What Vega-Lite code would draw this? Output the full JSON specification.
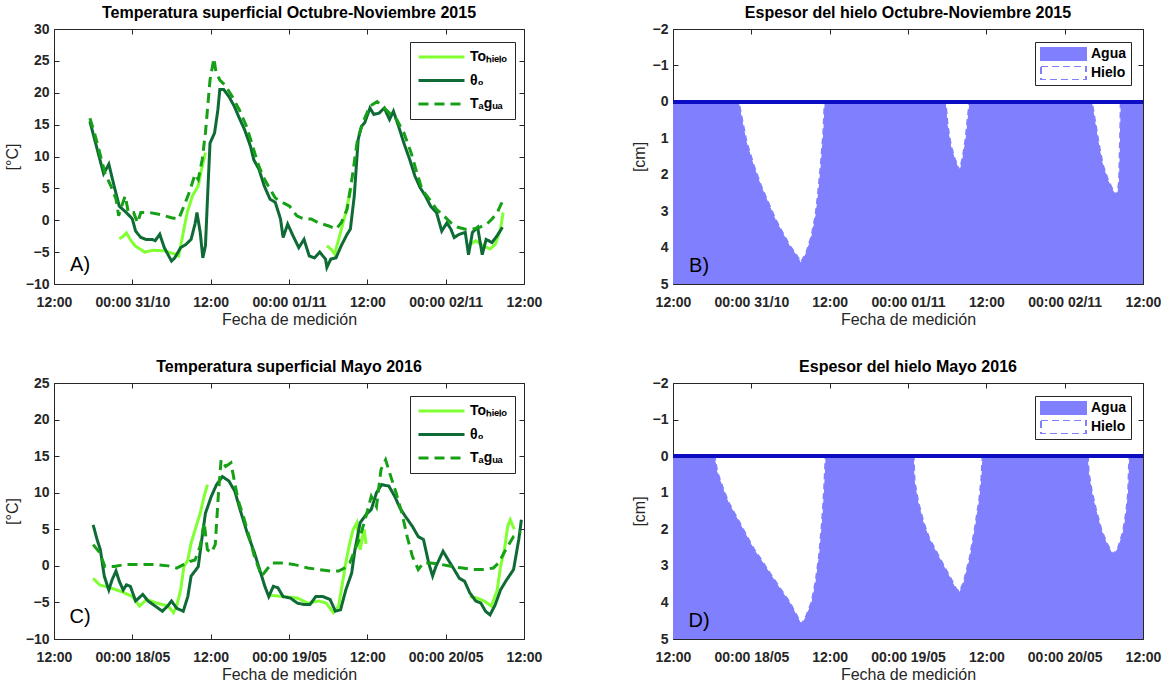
{
  "$schema": "https://vega.github.io/schema/vega-lite/v6.json",
  "background": "white",
  "padding": {"left": 3, "top": 4, "right": 5, "bottom": 5},
  "config": {
    "font": "Liberation Sans",
    "view": {"stroke": "#262626", "strokeWidth": 1},
    "axis": {"grid": false, "domain": false, "tickColor": "#262626", "labelColor": "#262626", "titleColor": "#262626", "labelFontSize": 14, "labelFontWeight": "bold", "titleFontSize": 16, "titleFontWeight": "normal", "tickSize": -5, "labelPadding": 10, "labelFlush": false, "labelOverlap": false, "titlePadding": 5},
    "axisBottom": {"labelPadding": 16, "titlePadding": 2},
    "title": {"fontSize": 16, "fontWeight": "bold", "color": "#000000", "offset": 1},
    "legend": {"labelFontSize": 14, "labelFontWeight": "bold", "labelColor": "#000000", "fillColor": "#ffffff", "strokeColor": "#262626", "orient": "none"}
  },
  "datasets": {
    "tA": [
      {"s":"To","k":1,"h":10.0,"v":-2.9},{"s":"To","k":1,"h":10.5,"v":-2.6},{"s":"To","k":1,"h":11.1,"v":-2.0},{"s":"To","k":1,"h":11.8,"v":-3.2},{"s":"To","k":1,"h":12.4,"v":-4.0},{"s":"To","k":1,"h":13.9,"v":-5.0},{"s":"To","k":1,"h":15.2,"v":-4.7},{"s":"To","k":1,"h":16.9,"v":-4.8},{"s":"To","k":1,"h":18.5,"v":-5.3},{"s":"To","k":1,"h":19.1,"v":-5.6},{"s":"To","k":1,"h":19.6,"v":-3.0},{"s":"To","k":1,"h":20.4,"v":1.2},{"s":"To","k":1,"h":21.2,"v":3.8},{"s":"To","k":1,"h":22.1,"v":5.4},{"s":"To","k":1,"h":22.6,"v":8.0},{"s":"To","k":1,"h":23.2,"v":10.6},
      {"s":"To","k":2,"h":41.8,"v":-4.0},{"s":"To","k":2,"h":42.5,"v":-4.6},{"s":"To","k":2,"h":43.0,"v":-5.3},{"s":"To","k":2,"h":43.9,"v":-1.9},{"s":"To","k":2,"h":44.7,"v":1.2},{"s":"To","k":2,"h":45.5,"v":5.1},
      {"s":"To","k":3,"h":63.5,"v":-4.0},{"s":"To","k":3,"h":64.6,"v":-3.2},{"s":"To","k":3,"h":65.7,"v":-4.0},{"s":"To","k":3,"h":66.8,"v":-4.5},{"s":"To","k":3,"h":67.6,"v":-3.8},{"s":"To","k":3,"h":68.4,"v":-1.4},{"s":"To","k":3,"h":68.8,"v":1.2},
      {"s":"th","k":4,"h":5.5,"v":15.5},{"s":"th","k":4,"h":6.5,"v":11.6},{"s":"th","k":4,"h":7.6,"v":7.3},{"s":"th","k":4,"h":8.4,"v":8.8},{"s":"th","k":4,"h":9.2,"v":5.4},{"s":"th","k":4,"h":10.0,"v":2.2},{"s":"th","k":4,"h":11.1,"v":1.2},{"s":"th","k":4,"h":12.0,"v":0.2},{"s":"th","k":4,"h":12.5,"v":-1.7},{"s":"th","k":4,"h":13.3,"v":-2.7},{"s":"th","k":4,"h":14.1,"v":-3.0},{"s":"th","k":4,"h":15.0,"v":-3.0},{"s":"th","k":4,"h":15.5,"v":-3.2},{"s":"th","k":4,"h":16.2,"v":-2.2},{"s":"th","k":4,"h":16.9,"v":-4.3},{"s":"th","k":4,"h":18.0,"v":-6.4},{"s":"th","k":4,"h":18.5,"v":-5.9},{"s":"th","k":4,"h":19.4,"v":-4.3},{"s":"th","k":4,"h":20.2,"v":-3.8},{"s":"th","k":4,"h":21.0,"v":-3.0},{"s":"th","k":4,"h":21.6,"v":-0.6},{"s":"th","k":4,"h":21.9,"v":1.2},{"s":"th","k":4,"h":22.4,"v":-1.9},{"s":"th","k":4,"h":22.8,"v":-5.9},{"s":"th","k":4,"h":23.2,"v":-4.0},{"s":"th","k":4,"h":23.6,"v":5.4},{"s":"th","k":4,"h":23.9,"v":12.1},{"s":"th","k":4,"h":24.6,"v":13.7},{"s":"th","k":4,"h":25.1,"v":17.3},{"s":"th","k":4,"h":25.4,"v":20.5},{"s":"th","k":4,"h":26.0,"v":20.5},{"s":"th","k":4,"h":26.8,"v":19.4},{"s":"th","k":4,"h":27.6,"v":17.9},{"s":"th","k":4,"h":28.4,"v":16.0},{"s":"th","k":4,"h":29.2,"v":14.2},{"s":"th","k":4,"h":30.1,"v":11.6},{"s":"th","k":4,"h":30.6,"v":9.5},{"s":"th","k":4,"h":31.4,"v":8.0},{"s":"th","k":4,"h":32.2,"v":5.4},{"s":"th","k":4,"h":33.1,"v":3.3},{"s":"th","k":4,"h":33.9,"v":2.8},{"s":"th","k":4,"h":34.7,"v":0.2},{"s":"th","k":4,"h":35.1,"v":-2.7},{"s":"th","k":4,"h":35.8,"v":-0.6},{"s":"th","k":4,"h":36.6,"v":-2.4},{"s":"th","k":4,"h":37.5,"v":-4.3},{"s":"th","k":4,"h":38.3,"v":-3.0},{"s":"th","k":4,"h":39.1,"v":-5.6},{"s":"th","k":4,"h":39.9,"v":-5.9},{"s":"th","k":4,"h":40.7,"v":-5.0},{"s":"th","k":4,"h":41.6,"v":-6.1},{"s":"th","k":4,"h":41.8,"v":-7.4},{"s":"th","k":4,"h":42.4,"v":-6.1},{"s":"th","k":4,"h":43.2,"v":-5.9},{"s":"th","k":4,"h":44.0,"v":-4.0},{"s":"th","k":4,"h":44.9,"v":-2.2},{"s":"th","k":4,"h":45.4,"v":-1.4},{"s":"th","k":4,"h":46.0,"v":3.8},{"s":"th","k":4,"h":46.6,"v":12.7},{"s":"th","k":4,"h":47.1,"v":14.7},{"s":"th","k":4,"h":47.6,"v":15.3},{"s":"th","k":4,"h":48.4,"v":17.6},{"s":"th","k":4,"h":49.0,"v":16.6},{"s":"th","k":4,"h":49.8,"v":16.8},{"s":"th","k":4,"h":50.6,"v":17.6},{"s":"th","k":4,"h":51.4,"v":15.8},{"s":"th","k":4,"h":52.0,"v":17.1},{"s":"th","k":4,"h":52.8,"v":14.7},{"s":"th","k":4,"h":53.6,"v":12.1},{"s":"th","k":4,"h":54.5,"v":9.5},{"s":"th","k":4,"h":55.3,"v":6.9},{"s":"th","k":4,"h":56.1,"v":5.1},{"s":"th","k":4,"h":56.9,"v":3.8},{"s":"th","k":4,"h":57.7,"v":2.2},{"s":"th","k":4,"h":58.6,"v":1.2},{"s":"th","k":4,"h":59.4,"v":-1.7},{"s":"th","k":4,"h":60.2,"v":-0.4},{"s":"th","k":4,"h":60.8,"v":-1.4},{"s":"th","k":4,"h":61.3,"v":-2.7},{"s":"th","k":4,"h":62.1,"v":-2.2},{"s":"th","k":4,"h":63.0,"v":-1.9},{"s":"th","k":4,"h":63.5,"v":-5.4},{"s":"th","k":4,"h":64.1,"v":-1.9},{"s":"th","k":4,"h":64.9,"v":-1.1},{"s":"th","k":4,"h":65.6,"v":-5.4},{"s":"th","k":4,"h":66.2,"v":-3.0},{"s":"th","k":4,"h":67.1,"v":-3.5},{"s":"th","k":4,"h":67.9,"v":-2.4},{"s":"th","k":4,"h":68.7,"v":-1.1},
      {"s":"Ta","k":5,"h":5.5,"v":16.0},{"s":"Ta","k":5,"h":6.2,"v":13.7},{"s":"Ta","k":5,"h":7.0,"v":10.6},{"s":"Ta","k":5,"h":7.8,"v":7.4},{"s":"Ta","k":5,"h":8.7,"v":5.4},{"s":"Ta","k":5,"h":9.5,"v":3.3},{"s":"Ta","k":5,"h":9.9,"v":0.7},{"s":"Ta","k":5,"h":10.2,"v":1.7},{"s":"Ta","k":5,"h":10.9,"v":3.8},{"s":"Ta","k":5,"h":11.4,"v":1.2},{"s":"Ta","k":5,"h":12.2,"v":1.2},{"s":"Ta","k":5,"h":12.8,"v":-0.4},{"s":"Ta","k":5,"h":13.3,"v":1.2},{"s":"Ta","k":5,"h":14.7,"v":1.2},{"s":"Ta","k":5,"h":16.3,"v":0.9},{"s":"Ta","k":5,"h":18.0,"v":0.4},{"s":"Ta","k":5,"h":19.1,"v":0.2},{"s":"Ta","k":5,"h":19.9,"v":2.2},{"s":"Ta","k":5,"h":20.7,"v":4.3},{"s":"Ta","k":5,"h":21.6,"v":7.2},{"s":"Ta","k":5,"h":22.1,"v":6.4},{"s":"Ta","k":5,"h":22.7,"v":9.5},{"s":"Ta","k":5,"h":23.2,"v":13.7},{"s":"Ta","k":5,"h":23.9,"v":22.0},{"s":"Ta","k":5,"h":24.5,"v":25.4},{"s":"Ta","k":5,"h":24.8,"v":23.3},{"s":"Ta","k":5,"h":25.4,"v":22.0},{"s":"Ta","k":5,"h":26.2,"v":21.2},{"s":"Ta","k":5,"h":27.3,"v":19.4},{"s":"Ta","k":5,"h":28.4,"v":17.3},{"s":"Ta","k":5,"h":29.5,"v":14.7},{"s":"Ta","k":5,"h":30.3,"v":12.1},{"s":"Ta","k":5,"h":31.2,"v":9.0},{"s":"Ta","k":5,"h":32.0,"v":6.9},{"s":"Ta","k":5,"h":32.8,"v":5.4},{"s":"Ta","k":5,"h":33.9,"v":3.5},{"s":"Ta","k":5,"h":35.0,"v":2.8},{"s":"Ta","k":5,"h":36.1,"v":2.2},{"s":"Ta","k":5,"h":37.2,"v":0.7},{"s":"Ta","k":5,"h":38.3,"v":0.2},{"s":"Ta","k":5,"h":39.4,"v":0.2},{"s":"Ta","k":5,"h":40.5,"v":-0.4},{"s":"Ta","k":5,"h":42.1,"v":-0.9},{"s":"Ta","k":5,"h":43.2,"v":-1.4},{"s":"Ta","k":5,"h":44.0,"v":-0.4},{"s":"Ta","k":5,"h":44.9,"v":1.7},{"s":"Ta","k":5,"h":45.7,"v":6.9},{"s":"Ta","k":5,"h":46.5,"v":12.7},{"s":"Ta","k":5,"h":47.3,"v":15.3},{"s":"Ta","k":5,"h":48.4,"v":17.9},{"s":"Ta","k":5,"h":49.5,"v":18.6},{"s":"Ta","k":5,"h":50.3,"v":17.9},{"s":"Ta","k":5,"h":51.4,"v":16.8},{"s":"Ta","k":5,"h":52.5,"v":15.8},{"s":"Ta","k":5,"h":53.6,"v":13.7},{"s":"Ta","k":5,"h":54.7,"v":10.6},{"s":"Ta","k":5,"h":55.6,"v":7.4},{"s":"Ta","k":5,"h":56.4,"v":4.8},{"s":"Ta","k":5,"h":57.5,"v":3.3},{"s":"Ta","k":5,"h":58.6,"v":1.7},{"s":"Ta","k":5,"h":59.7,"v":0.7},{"s":"Ta","k":5,"h":60.8,"v":-0.4},{"s":"Ta","k":5,"h":61.9,"v":-1.1},{"s":"Ta","k":5,"h":63.0,"v":-1.4},{"s":"Ta","k":5,"h":64.1,"v":-1.4},{"s":"Ta","k":5,"h":65.2,"v":-1.1},{"s":"Ta","k":5,"h":66.3,"v":-0.6},{"s":"Ta","k":5,"h":67.1,"v":0.2},{"s":"Ta","k":5,"h":67.9,"v":1.2},{"s":"Ta","k":5,"h":68.7,"v":3.0}
    ],
    "hB": [
      {"h":0,"e":0},{"h":10.1,"e":0},{"h":10.7,"e":0.55},{"h":11.3,"e":1.1},{"h":12.4,"e":1.74},{"h":13.5,"e":2.29},{"h":14.6,"e":2.75},{"h":15.7,"e":3.21},{"h":16.8,"e":3.58},{"h":17.9,"e":3.94},{"h":19.0,"e":4.22},{"h":19.6,"e":4.4},{"h":20.4,"e":4.13},{"h":21.2,"e":3.67},{"h":21.8,"e":3.12},{"h":22.2,"e":2.48},{"h":22.6,"e":1.74},{"h":23.0,"e":0.83},{"h":23.2,"e":0},
      {"h":41.8,"e":0},{"h":42.1,"e":0.64},{"h":42.6,"e":1.19},{"h":43.2,"e":1.56},{"h":43.9,"e":1.88},{"h":44.4,"e":1.47},{"h":44.8,"e":1.0},{"h":45.1,"e":0.46},{"h":45.4,"e":0},
      {"h":64.2,"e":0},{"h":64.8,"e":0.64},{"h":65.3,"e":1.19},{"h":65.9,"e":1.74},{"h":66.7,"e":2.16},{"h":67.6,"e":2.48},{"h":68.0,"e":2.55},{"h":68.3,"e":2.2},{"h":68.4,"e":1.4},{"h":68.5,"e":0.6},{"h":68.55,"e":0},{"h":72,"e":0}
    ],
    "tC": [
      {"s":"To","k":1,"h":6.0,"v":-1.7},{"s":"To","k":1,"h":7.0,"v":-2.6},{"s":"To","k":1,"h":8.6,"v":-3.0},{"s":"To","k":1,"h":10.3,"v":-3.5},{"s":"To","k":1,"h":12.0,"v":-4.2},{"s":"To","k":1,"h":13.1,"v":-5.5},{"s":"To","k":1,"h":14.2,"v":-4.6},{"s":"To","k":1,"h":15.8,"v":-5.1},{"s":"To","k":1,"h":17.5,"v":-5.5},{"s":"To","k":1,"h":18.3,"v":-6.4},{"s":"To","k":1,"h":18.8,"v":-5.5},{"s":"To","k":1,"h":19.4,"v":-3.3},{"s":"To","k":1,"h":19.9,"v":-0.1},{"s":"To","k":1,"h":20.5,"v":0.8},{"s":"To","k":1,"h":21.0,"v":3.1},{"s":"To","k":1,"h":21.6,"v":4.9},{"s":"To","k":1,"h":22.4,"v":7.2},{"s":"To","k":1,"h":23.0,"v":9.5},{"s":"To","k":1,"h":23.5,"v":11.1},
      {"s":"To","k":2,"h":32.9,"v":-4.0},{"s":"To","k":2,"h":35.1,"v":-4.2},{"s":"To","k":2,"h":37.3,"v":-4.4},{"s":"To","k":2,"h":38.9,"v":-5.1},{"s":"To","k":2,"h":40.6,"v":-4.8},{"s":"To","k":2,"h":41.7,"v":-5.1},{"s":"To","k":2,"h":42.8,"v":-6.4},{"s":"To","k":2,"h":43.6,"v":-5.5},{"s":"To","k":2,"h":44.2,"v":-2.3},{"s":"To","k":2,"h":44.7,"v":0.4},{"s":"To","k":2,"h":45.3,"v":3.1},{"s":"To","k":2,"h":45.8,"v":4.9},{"s":"To","k":2,"h":46.4,"v":5.9},{"s":"To","k":2,"h":46.9,"v":2.2},{"s":"To","k":2,"h":47.5,"v":5.0},{"s":"To","k":2,"h":47.8,"v":3.0},
      {"s":"To","k":3,"h":63.7,"v":-4.2},{"s":"To","k":3,"h":64.8,"v":-4.4},{"s":"To","k":3,"h":65.9,"v":-4.8},{"s":"To","k":3,"h":67.0,"v":-5.5},{"s":"To","k":3,"h":67.9,"v":-3.3},{"s":"To","k":3,"h":68.4,"v":-0.1},{"s":"To","k":3,"h":69.0,"v":2.2},{"s":"To","k":3,"h":69.5,"v":5.4},{"s":"To","k":3,"h":69.9,"v":6.3},{"s":"To","k":3,"h":70.5,"v":5.0},
      {"s":"th","k":4,"h":6.0,"v":5.6},{"s":"th","k":4,"h":6.6,"v":3.6},{"s":"th","k":4,"h":7.1,"v":2.2},{"s":"th","k":4,"h":7.7,"v":-1.4},{"s":"th","k":4,"h":8.4,"v":-3.3},{"s":"th","k":4,"h":8.9,"v":-1.9},{"s":"th","k":4,"h":9.5,"v":-0.7},{"s":"th","k":4,"h":10.0,"v":-2.1},{"s":"th","k":4,"h":10.6,"v":-3.3},{"s":"th","k":4,"h":11.1,"v":-2.6},{"s":"th","k":4,"h":11.7,"v":-2.8},{"s":"th","k":4,"h":12.5,"v":-4.8},{"s":"th","k":4,"h":13.6,"v":-3.9},{"s":"th","k":4,"h":14.4,"v":-4.8},{"s":"th","k":4,"h":15.5,"v":-5.5},{"s":"th","k":4,"h":16.6,"v":-6.2},{"s":"th","k":4,"h":17.4,"v":-5.5},{"s":"th","k":4,"h":18.0,"v":-4.8},{"s":"th","k":4,"h":18.8,"v":-5.8},{"s":"th","k":4,"h":19.8,"v":-6.2},{"s":"th","k":4,"h":20.5,"v":-4.2},{"s":"th","k":4,"h":21.0,"v":-1.4},{"s":"th","k":4,"h":21.6,"v":-0.7},{"s":"th","k":4,"h":22.1,"v":-0.1},{"s":"th","k":4,"h":22.7,"v":4.0},{"s":"th","k":4,"h":23.2,"v":7.2},{"s":"th","k":4,"h":24.1,"v":9.5},{"s":"th","k":4,"h":24.9,"v":11.1},{"s":"th","k":4,"h":25.8,"v":12.2},{"s":"th","k":4,"h":26.8,"v":11.6},{"s":"th","k":4,"h":27.7,"v":10.2},{"s":"th","k":4,"h":28.5,"v":7.7},{"s":"th","k":4,"h":29.6,"v":4.5},{"s":"th","k":4,"h":30.7,"v":1.8},{"s":"th","k":4,"h":31.5,"v":-0.5},{"s":"th","k":4,"h":32.3,"v":-2.8},{"s":"th","k":4,"h":32.9,"v":-4.2},{"s":"th","k":4,"h":33.6,"v":-2.8},{"s":"th","k":4,"h":34.3,"v":-3.0},{"s":"th","k":4,"h":35.1,"v":-4.2},{"s":"th","k":4,"h":36.2,"v":-4.4},{"s":"th","k":4,"h":37.3,"v":-5.1},{"s":"th","k":4,"h":38.4,"v":-5.3},{"s":"th","k":4,"h":39.2,"v":-5.3},{"s":"th","k":4,"h":40.1,"v":-4.2},{"s":"th","k":4,"h":41.2,"v":-4.2},{"s":"th","k":4,"h":42.3,"v":-4.6},{"s":"th","k":4,"h":43.1,"v":-6.2},{"s":"th","k":4,"h":43.9,"v":-6.0},{"s":"th","k":4,"h":44.7,"v":-3.3},{"s":"th","k":4,"h":45.6,"v":-1.0},{"s":"th","k":4,"h":46.1,"v":2.2},{"s":"th","k":4,"h":46.9,"v":5.9},{"s":"th","k":4,"h":47.8,"v":7.0},{"s":"th","k":4,"h":48.6,"v":7.7},{"s":"th","k":4,"h":49.4,"v":10.0},{"s":"th","k":4,"h":50.2,"v":11.1},{"s":"th","k":4,"h":51.3,"v":10.9},{"s":"th","k":4,"h":52.2,"v":9.5},{"s":"th","k":4,"h":53.0,"v":7.9},{"s":"th","k":4,"h":53.8,"v":6.8},{"s":"th","k":4,"h":54.9,"v":5.4},{"s":"th","k":4,"h":55.8,"v":4.0},{"s":"th","k":4,"h":56.6,"v":3.6},{"s":"th","k":4,"h":57.4,"v":0.4},{"s":"th","k":4,"h":58.0,"v":-1.4},{"s":"th","k":4,"h":58.5,"v":-0.1},{"s":"th","k":4,"h":59.6,"v":2.0},{"s":"th","k":4,"h":60.4,"v":0.8},{"s":"th","k":4,"h":61.3,"v":-0.5},{"s":"th","k":4,"h":62.1,"v":-1.7},{"s":"th","k":4,"h":62.9,"v":-2.1},{"s":"th","k":4,"h":63.7,"v":-3.7},{"s":"th","k":4,"h":64.6,"v":-4.8},{"s":"th","k":4,"h":65.4,"v":-5.1},{"s":"th","k":4,"h":66.1,"v":-6.2},{"s":"th","k":4,"h":66.8,"v":-6.7},{"s":"th","k":4,"h":67.6,"v":-5.3},{"s":"th","k":4,"h":68.4,"v":-3.3},{"s":"th","k":4,"h":69.2,"v":-2.1},{"s":"th","k":4,"h":70.4,"v":-0.5},{"s":"th","k":4,"h":71.2,"v":3.6},{"s":"th","k":4,"h":71.6,"v":6.3},
      {"s":"Ta","k":5,"h":6.0,"v":2.9},{"s":"Ta","k":5,"h":7.0,"v":1.8},{"s":"Ta","k":5,"h":7.8,"v":-0.1},{"s":"Ta","k":5,"h":9.2,"v":-0.1},{"s":"Ta","k":5,"h":10.9,"v":0.2},{"s":"Ta","k":5,"h":13.1,"v":0.2},{"s":"Ta","k":5,"h":15.3,"v":0.2},{"s":"Ta","k":5,"h":17.5,"v":0.0},{"s":"Ta","k":5,"h":18.8,"v":-0.3},{"s":"Ta","k":5,"h":19.9,"v":0.2},{"s":"Ta","k":5,"h":20.8,"v":0.6},{"s":"Ta","k":5,"h":21.6,"v":0.8},{"s":"Ta","k":5,"h":22.4,"v":2.7},{"s":"Ta","k":5,"h":23.0,"v":5.9},{"s":"Ta","k":5,"h":23.5,"v":2.2},{"s":"Ta","k":5,"h":24.1,"v":1.8},{"s":"Ta","k":5,"h":24.7,"v":2.9},{"s":"Ta","k":5,"h":25.2,"v":10.0},{"s":"Ta","k":5,"h":25.6,"v":14.5},{"s":"Ta","k":5,"h":26.3,"v":13.6},{"s":"Ta","k":5,"h":27.1,"v":14.1},{"s":"Ta","k":5,"h":27.7,"v":11.3},{"s":"Ta","k":5,"h":28.2,"v":9.0},{"s":"Ta","k":5,"h":29.0,"v":6.8},{"s":"Ta","k":5,"h":29.9,"v":4.0},{"s":"Ta","k":5,"h":30.7,"v":1.3},{"s":"Ta","k":5,"h":31.8,"v":-1.4},{"s":"Ta","k":5,"h":32.6,"v":-0.5},{"s":"Ta","k":5,"h":33.4,"v":0.4},{"s":"Ta","k":5,"h":35.1,"v":0.4},{"s":"Ta","k":5,"h":36.7,"v":0.2},{"s":"Ta","k":5,"h":38.9,"v":-0.3},{"s":"Ta","k":5,"h":40.6,"v":-0.5},{"s":"Ta","k":5,"h":42.3,"v":-0.7},{"s":"Ta","k":5,"h":43.6,"v":-0.7},{"s":"Ta","k":5,"h":44.5,"v":-0.3},{"s":"Ta","k":5,"h":45.3,"v":0.4},{"s":"Ta","k":5,"h":46.1,"v":2.2},{"s":"Ta","k":5,"h":46.9,"v":4.0},{"s":"Ta","k":5,"h":47.8,"v":6.8},{"s":"Ta","k":5,"h":48.6,"v":9.5},{"s":"Ta","k":5,"h":49.4,"v":8.1},{"s":"Ta","k":5,"h":50.1,"v":13.2},{"s":"Ta","k":5,"h":50.8,"v":14.5},{"s":"Ta","k":5,"h":51.6,"v":12.2},{"s":"Ta","k":5,"h":52.4,"v":10.0},{"s":"Ta","k":5,"h":53.3,"v":7.2},{"s":"Ta","k":5,"h":54.1,"v":4.0},{"s":"Ta","k":5,"h":54.9,"v":1.3},{"s":"Ta","k":5,"h":55.8,"v":-0.5},{"s":"Ta","k":5,"h":56.6,"v":0.4},{"s":"Ta","k":5,"h":57.7,"v":0.4},{"s":"Ta","k":5,"h":59.3,"v":0.2},{"s":"Ta","k":5,"h":61.0,"v":-0.1},{"s":"Ta","k":5,"h":62.6,"v":-0.3},{"s":"Ta","k":5,"h":64.3,"v":-0.5},{"s":"Ta","k":5,"h":65.9,"v":-0.5},{"s":"Ta","k":5,"h":67.3,"v":-0.3},{"s":"Ta","k":5,"h":68.1,"v":0.4},{"s":"Ta","k":5,"h":69.2,"v":2.2},{"s":"Ta","k":5,"h":70.4,"v":4.0},{"s":"Ta","k":5,"h":71.5,"v":4.7}
    ],
    "hD": [
      {"h":0,"e":0},{"h":6.4,"e":0},{"h":6.8,"e":0.42},{"h":7.7,"e":0.88},{"h":8.5,"e":1.25},{"h":9.6,"e":1.61},{"h":11.0,"e":2.07},{"h":12.4,"e":2.53},{"h":13.8,"e":2.9},{"h":15.1,"e":3.26},{"h":16.5,"e":3.63},{"h":17.9,"e":3.99},{"h":19.0,"e":4.36},{"h":19.7,"e":4.59},{"h":20.4,"e":4.36},{"h":21.2,"e":3.99},{"h":21.8,"e":3.44},{"h":22.35,"e":2.72},{"h":22.8,"e":1.8},{"h":23.1,"e":0.97},{"h":23.35,"e":0},
      {"h":36.9,"e":0},{"h":37.05,"e":0.7},{"h":37.6,"e":1.25},{"h":38.4,"e":1.8},{"h":39.3,"e":2.25},{"h":40.4,"e":2.62},{"h":41.5,"e":2.99},{"h":42.6,"e":3.35},{"h":43.4,"e":3.63},{"h":43.9,"e":3.7},{"h":44.5,"e":3.44},{"h":45.4,"e":2.8},{"h":46.2,"e":1.98},{"h":46.9,"e":1.16},{"h":47.2,"e":0.61},{"h":47.4,"e":0},
      {"h":63.6,"e":0},{"h":63.7,"e":0.42},{"h":64.2,"e":0.97},{"h":64.8,"e":1.43},{"h":65.6,"e":1.98},{"h":66.4,"e":2.35},{"h":67.4,"e":2.68},{"h":68.1,"e":2.53},{"h":68.9,"e":2.07},{"h":69.4,"e":1.52},{"h":69.7,"e":0.97},{"h":69.8,"e":0.33},{"h":69.9,"e":0},{"h":72,"e":0}
    ]
  },
  "spacing": 30,
  "resolve": {
    "scale": {"color": "independent", "strokeDash": "independent", "fill": "independent"},
    "legend": {"color": "independent", "strokeDash": "independent", "fill": "independent"}
  },
  "vconcat": [
    {
      "spacing": 87,
      "hconcat": [
        {
          "title": "Temperatura superficial Octubre-Noviembre 2015",
          "width": 470, "height": 255,
          "resolve": {"axis": {"x": "independent", "y": "independent"}},
          "layer": [
            {
              "data": {"name": "tA"},
              "mark": {"type": "line", "strokeWidth": 3},
              "encoding": {
                "x": {"field": "h", "type": "quantitative", "scale": {"domain": [0, 72], "nice": false, "zero": false},
                      "axis": {"orient": "bottom", "values": [0, 12, 24, 36, 48, 60, 72], "title": "Fecha de medición",
                               "labelExpr": "datum.value == 12 ? '00:00 31/10' : datum.value == 36 ? '00:00 01/11' : datum.value == 60 ? '00:00 02/11' : '12:00'"}},
                "y": {"field": "v", "type": "quantitative", "scale": {"domain": [-10, 30], "nice": false, "zero": false},
                      "axis": {"orient": "left", "values": [-10, -5, 0, 5, 10, 15, 20, 25, 30], "title": "[°C]"}},
                "color": {"field": "s", "type": "nominal", "scale": {"domain": ["To", "th", "Ta"], "range": ["#80FF33", "#0E6B35", "#16A016"]},
                          "legend": {"title": null, "legendX": 356, "legendY": 13, "symbolType": "stroke", "symbolSize": 2116, "symbolStrokeWidth": 3, "clipHeight": 16, "rowPadding": 7.5, "padding": 7, "labelOffset": 4,
                                     "labelExpr": "datum.label == 'To' ? 'Toₕᵢₑₗₒ' : datum.label == 'th' ? 'θ₀' : 'Tₐgᵤₐ'"}},
                "strokeDash": {"field": "s", "type": "nominal", "scale": {"domain": ["To", "th", "Ta"], "range": [[1, 0], [1, 0], [10, 6]]},
                          "legend": {"title": null, "legendX": 356, "legendY": 13, "symbolType": "stroke", "symbolSize": 2116, "symbolStrokeWidth": 3, "clipHeight": 16, "rowPadding": 7.5, "padding": 7, "labelOffset": 4,
                                     "labelExpr": "datum.label == 'To' ? 'Toₕᵢₑₗₒ' : datum.label == 'th' ? 'θ₀' : 'Tₐgᵤₐ'"}},
                "detail": {"field": "k", "type": "nominal"}
              }
            },
            {
              "data": {"values": [{"p": "A)"}]},
              "mark": {"type": "text", "fontSize": 20, "align": "center", "baseline": "middle", "color": "#000000"},
              "encoding": {
                "x": {"datum": 4, "type": "quantitative", "axis": {"orient": "top", "labels": false, "title": null, "values": [0, 12, 24, 36, 48, 60, 72]}},
                "y": {"datum": -7, "type": "quantitative", "axis": {"orient": "right", "labels": false, "title": null, "values": [-10, -5, 0, 5, 10, 15, 20, 25, 30]}},
                "text": {"field": "p", "type": "nominal"}
              }
            }
          ]
        },
        {
          "title": "Espesor del hielo Octubre-Noviembre 2015",
          "width": 470, "height": 255,
          "data": {"name": "hB"},
          "resolve": {"axis": {"x": "independent", "y": "independent"}},
          "layer": [
            {
              "mark": {"type": "area"},
              "encoding": {
                "x": {"field": "h", "type": "quantitative", "scale": {"domain": [0, 72], "nice": false, "zero": false},
                      "axis": {"orient": "bottom", "values": [0, 12, 24, 36, 48, 60, 72], "title": "Fecha de medición",
                               "labelExpr": "datum.value == 12 ? '00:00 31/10' : datum.value == 36 ? '00:00 01/11' : datum.value == 60 ? '00:00 02/11' : '12:00'"}},
                "y": {"field": "e", "type": "quantitative", "scale": {"domain": [-2, 5], "nice": false, "zero": false, "reverse": true},
                      "axis": {"orient": "left", "values": [-2, -1, 0, 1, 2, 3, 4, 5], "title": "[cm]"}},
                "y2": {"datum": 5},
                "fill": {"datum": "Agua", "type": "nominal", "scale": {"domain": ["Agua", "Hielo"], "range": ["#8080FF", "#FFFFFF"]},
                         "legend": {"title": null, "legendX": 981, "legendY": 13, "symbolType": "M-1,-0.31H1V0.31H-1Z", "symbolSize": 2025, "clipHeight": 14, "rowPadding": 5, "padding": 5, "labelOffset": 4,
                                    "encode": {"symbols": {"update": {"stroke": {"value": "#8080FF"}, "strokeWidth": {"value": 2}, "strokeDash": {"signal": "datum.value === 'Hielo' ? [7, 4] : [1, 0]"}}}}}}
              }
            },
            {
              "mark": {"type": "area", "stroke": "#8080FF", "strokeWidth": 1.5, "strokeDash": [6, 4]},
              "encoding": {
                "x": {"field": "h", "type": "quantitative", "axis": null},
                "y": {"field": "e", "type": "quantitative", "axis": null},
                "y2": {"datum": 0},
                "fill": {"datum": "Hielo", "type": "nominal"}
              }
            },
            {
              "mark": {"type": "rule", "color": "#0C0CC4", "strokeWidth": 3},
              "encoding": {"y": {"datum": 0, "type": "quantitative", "axis": null}}
            },
            {
              "data": {"values": [{"p": "B)"}]},
              "mark": {"type": "text", "fontSize": 20, "align": "center", "baseline": "middle", "color": "#000000"},
              "encoding": {
                "x": {"datum": 4, "type": "quantitative", "axis": {"orient": "top", "labels": false, "title": null, "values": [0, 12, 24, 36, 48, 60, 72]}},
                "y": {"datum": 4.5, "type": "quantitative", "axis": {"orient": "right", "labels": false, "title": null, "values": [-2, -1, 0, 1, 2, 3, 4, 5]}},
                "text": {"field": "p", "type": "nominal"}
              }
            }
          ]
        }
      ]
    },
    {
      "spacing": 87,
      "hconcat": [
        {
          "title": "Temperatura superficial Mayo 2016",
          "width": 470, "height": 256,
          "resolve": {"axis": {"x": "independent", "y": "independent"}},
          "layer": [
            {
              "data": {"name": "tC"},
              "mark": {"type": "line", "strokeWidth": 3},
              "encoding": {
                "x": {"field": "h", "type": "quantitative", "scale": {"domain": [0, 72], "nice": false, "zero": false},
                      "axis": {"orient": "bottom", "values": [0, 12, 24, 36, 48, 60, 72], "title": "Fecha de medición",
                               "labelExpr": "datum.value == 12 ? '00:00 18/05' : datum.value == 36 ? '00:00 19/05' : datum.value == 60 ? '00:00 20/05' : '12:00'"}},
                "y": {"field": "v", "type": "quantitative", "scale": {"domain": [-10, 25], "nice": false, "zero": false},
                      "axis": {"orient": "left", "values": [-10, -5, 0, 5, 10, 15, 20, 25], "title": "[°C]"}},
                "color": {"field": "s", "type": "nominal", "scale": {"domain": ["To", "th", "Ta"], "range": ["#80FF33", "#0E6B35", "#16A016"]},
                          "legend": {"title": null, "legendX": 356, "legendY": 13, "symbolType": "stroke", "symbolSize": 2116, "symbolStrokeWidth": 3, "clipHeight": 16, "rowPadding": 7.5, "padding": 7, "labelOffset": 4,
                                     "labelExpr": "datum.label == 'To' ? 'Toₕᵢₑₗₒ' : datum.label == 'th' ? 'θ₀' : 'Tₐgᵤₐ'"}},
                "strokeDash": {"field": "s", "type": "nominal", "scale": {"domain": ["To", "th", "Ta"], "range": [[1, 0], [1, 0], [10, 6]]},
                          "legend": {"title": null, "legendX": 356, "legendY": 13, "symbolType": "stroke", "symbolSize": 2116, "symbolStrokeWidth": 3, "clipHeight": 16, "rowPadding": 7.5, "padding": 7, "labelOffset": 4,
                                     "labelExpr": "datum.label == 'To' ? 'Toₕᵢₑₗₒ' : datum.label == 'th' ? 'θ₀' : 'Tₐgᵤₐ'"}},
                "detail": {"field": "k", "type": "nominal"}
              }
            },
            {
              "data": {"values": [{"p": "C)"}]},
              "mark": {"type": "text", "fontSize": 20, "align": "center", "baseline": "middle", "color": "#000000"},
              "encoding": {
                "x": {"datum": 4, "type": "quantitative", "axis": {"orient": "top", "labels": false, "title": null, "values": [0, 12, 24, 36, 48, 60, 72]}},
                "y": {"datum": -7, "type": "quantitative", "axis": {"orient": "right", "labels": false, "title": null, "values": [-10, -5, 0, 5, 10, 15, 20, 25]}},
                "text": {"field": "p", "type": "nominal"}
              }
            }
          ]
        },
        {
          "title": "Espesor del hielo Mayo 2016",
          "width": 470, "height": 256,
          "data": {"name": "hD"},
          "resolve": {"axis": {"x": "independent", "y": "independent"}},
          "layer": [
            {
              "mark": {"type": "area"},
              "encoding": {
                "x": {"field": "h", "type": "quantitative", "scale": {"domain": [0, 72], "nice": false, "zero": false},
                      "axis": {"orient": "bottom", "values": [0, 12, 24, 36, 48, 60, 72], "title": "Fecha de medición",
                               "labelExpr": "datum.value == 12 ? '00:00 18/05' : datum.value == 36 ? '00:00 19/05' : datum.value == 60 ? '00:00 20/05' : '12:00'"}},
                "y": {"field": "e", "type": "quantitative", "scale": {"domain": [-2, 5], "nice": false, "zero": false, "reverse": true},
                      "axis": {"orient": "left", "values": [-2, -1, 0, 1, 2, 3, 4, 5], "title": "[cm]"}},
                "y2": {"datum": 5},
                "fill": {"datum": "Agua", "type": "nominal", "scale": {"domain": ["Agua", "Hielo"], "range": ["#8080FF", "#FFFFFF"]},
                         "legend": {"title": null, "legendX": 981, "legendY": 13, "symbolType": "M-1,-0.31H1V0.31H-1Z", "symbolSize": 2025, "clipHeight": 14, "rowPadding": 5, "padding": 5, "labelOffset": 4,
                                    "encode": {"symbols": {"update": {"stroke": {"value": "#8080FF"}, "strokeWidth": {"value": 2}, "strokeDash": {"signal": "datum.value === 'Hielo' ? [7, 4] : [1, 0]"}}}}}}
              }
            },
            {
              "mark": {"type": "area", "stroke": "#8080FF", "strokeWidth": 1.5, "strokeDash": [6, 4]},
              "encoding": {
                "x": {"field": "h", "type": "quantitative", "axis": null},
                "y": {"field": "e", "type": "quantitative", "axis": null},
                "y2": {"datum": 0},
                "fill": {"datum": "Hielo", "type": "nominal"}
              }
            },
            {
              "mark": {"type": "rule", "color": "#0C0CC4", "strokeWidth": 3},
              "encoding": {"y": {"datum": 0, "type": "quantitative", "axis": null}}
            },
            {
              "data": {"values": [{"p": "D)"}]},
              "mark": {"type": "text", "fontSize": 20, "align": "center", "baseline": "middle", "color": "#000000"},
              "encoding": {
                "x": {"datum": 4, "type": "quantitative", "axis": {"orient": "top", "labels": false, "title": null, "values": [0, 12, 24, 36, 48, 60, 72]}},
                "y": {"datum": 4.5, "type": "quantitative", "axis": {"orient": "right", "labels": false, "title": null, "values": [-2, -1, 0, 1, 2, 3, 4, 5]}},
                "text": {"field": "p", "type": "nominal"}
              }
            }
          ]
        }
      ]
    }
  ]
}
